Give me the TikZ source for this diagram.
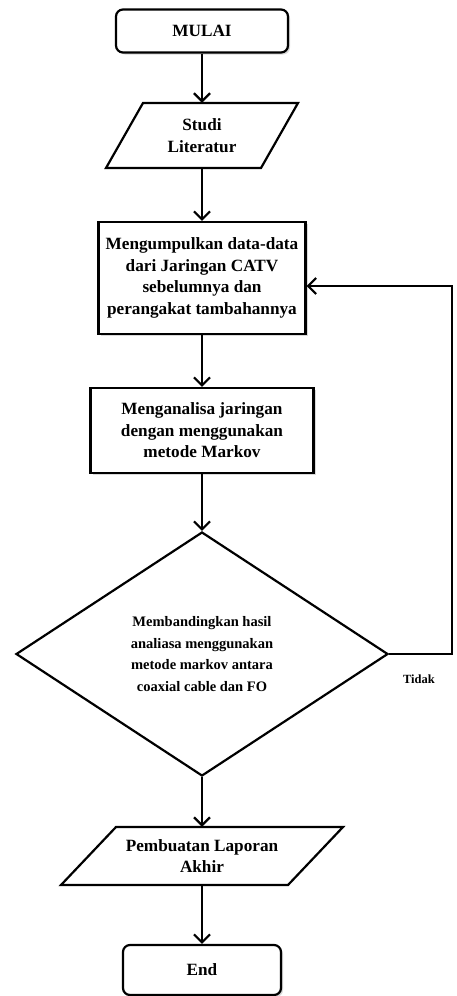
\documentclass[tikz,border=0pt]{standalone}
\usepackage{fontspec}
\setmainfont{Liberation Serif}
\usetikzlibrary{shapes.geometric,arrows.meta,shadows}

\begin{document}
\begin{tikzpicture}[
      x=1pt, y=-1pt,
      text_style/.style={align=center, inner sep=2pt,
        font=\bfseries\fontsize{17.2}{21.5}\selectfont},
      base_style/.style={text_style, draw, black, line width=2.2pt, fill=white},
      shade_style/.style={drop shadow={shadow xshift=2pt, shadow yshift=-2pt, opacity=0.3}},
      terminal_style/.style={base_style, shade_style, rectangle, rounded corners=7pt},
      process_style/.style={base_style, shade_style, rectangle},
      frame_style/.style={draw, black, line width=2.2pt, line join=miter},
      decision_style/.style={base_style, diamond, inner sep=0pt,
        font=\bfseries\fontsize{14.5}{21.5}\selectfont},
      arrow_style/.style={draw, black, line width=2.2pt,
        -{Straight Barb[length=8pt, width=16pt]}},
      label_style/.style={font=\bfseries\fontsize{12.5}{14}\selectfont}
  ]

      \useasboundingbox (0,0) rectangle (456,996);

      \def\mid{202}

      \node[terminal_style, minimum width=172pt, minimum height=43pt] (start) at (\mid,31) {MULAI};
      \node[text_style, minimum height=65pt] (study) at (\mid,135.5) {Studi\\Literatur};
      \node[process_style, minimum width=207pt, minimum height=112pt] (collect) at (\mid,278)
        {Mengumpulkan data-data\\dari Jaringan CATV\\sebelumnya dan\\perangakat tambahannya};
      \node[process_style, minimum width=223pt, minimum height=85pt] (analyse) at (\mid,430.5)
        {Menganalisa jaringan\\dengan menggunakan\\metode Markov};
      \node[decision_style, minimum width=372pt, minimum height=244pt] (compare) at (\mid,654)
        {Membandingkan hasil\\analiasa menggunakan\\metode markov antara\\coaxial cable dan FO};
      \node[text_style, minimum height=58pt] (report) at (\mid,856) {Pembuatan Laporan\\Akhir};
      \node[terminal_style, minimum width=158pt, minimum height=50pt] (finish) at (\mid,970) {End};

      % parallelogram frames
      \draw[frame_style] ([shift={(-96,32.5)}]study.center) -- ([shift={(59,32.5)}]study.center)
        -- ([shift={(96,-32.5)}]study.center) -- ([shift={(-59,-32.5)}]study.center) -- cycle;
      \draw[frame_style] ([shift={(-141,29)}]report.center) -- ([shift={(86,29)}]report.center)
        -- ([shift={(141,-29)}]report.center) -- ([shift={(-86,-29)}]report.center) -- cycle;

      \coordinate (back_low) at (452,654);
      \coordinate (back_high) at (452,286);

      \draw[arrow_style] (start) -- (study);
      \draw[arrow_style] (study) -- (collect);
      \draw[arrow_style] (collect) -- (analyse);
      \draw[arrow_style] (analyse) -- (compare);
      \draw[arrow_style] (compare) -- (report);
      \draw[arrow_style] (report) -- (finish);
      \draw[arrow_style] (compare.east) -- (back_low) -- (back_high) -- (collect.east |- back_high);

      \node[label_style] (no) at (419,679) {Tidak};
  \end{tikzpicture}
\end{document}
